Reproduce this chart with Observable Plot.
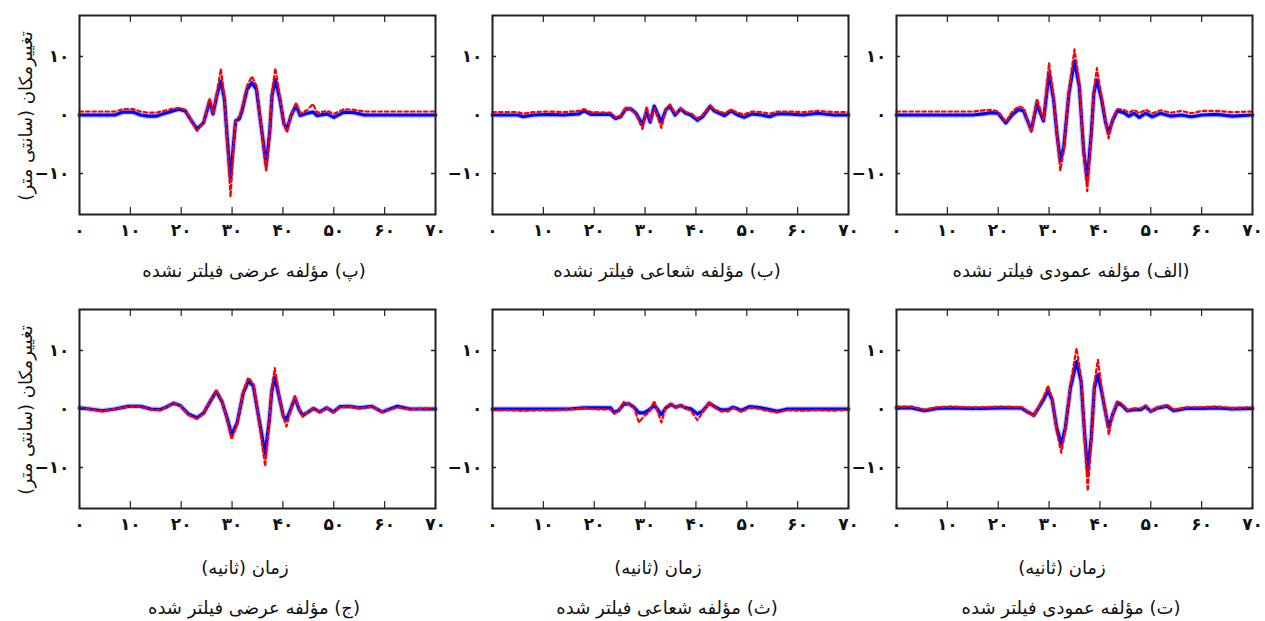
<!DOCTYPE html>
<html><head><meta charset="utf-8">
<script src="https://cdn.jsdelivr.net/npm/d3@7"></script>
<script src="https://cdn.jsdelivr.net/npm/@observablehq/plot@0.6"></script>
<style>
body{margin:0;background:#fff;}
#root{position:relative;width:1265px;height:621px;overflow:hidden;background:#fff;font-family:"DejaVu Sans",sans-serif;color:#111;}
.panel{position:absolute;}
.panel svg{max-width:none;display:block;}
.cap{position:absolute;direction:rtl;text-align:center;white-space:nowrap;font-size:18px;transform:translate(-50%,-50%);}
.ylab{position:absolute;direction:rtl;white-space:nowrap;font-size:18px;transform:translate(-50%,-50%) rotate(-90deg);}
</style></head><body><div id="root"></div>
<script>
// ---------- tick values and labels ----------
const xTicks = [0, 10, 20, 30, 40, 50, 60, 70];
const xTickLabels = ["۰", "۱۰", "۲۰", "۳۰", "۴۰", "۵۰", "۶۰", "۷۰"];
const yTicks = [-10, 0, 10];
const yTickLabels = ["−۱۰", "۰", "۱۰"];
const yTitle = "تغییرمکان (سانتی متر)";
const xTitle = "زمان (ثانیه)";

// ---------- (پ) transverse, unfiltered (top-left) ----------
const timeP = [0,3,5,7,8.5,10.5,12,13.5,15,16.5, 18,19.5,20.8,21.8,23.1,24.4,25.6,26.25,27,27.8, 28.5,29.1,29.7,30.2,30.7,31.4,31.95,32.95,33.9,34.8, 35.7,36.7,37.4,37.85,38.5,39.4,40.2,40.8,41.6,42.6, 43.4,44.75,45.9,46.7,48.7,50,52,54,56,58, 61,64,67,70];
const blueP = [0,0,0,0,0.5,0.5,0,-0.2,-0.2,0.2, 0.6,1.0,0.7,-0.7,-2.4,-1.3,2.4,0.2,3.3,5.8, 2.7,-4.6,-10.8,-5.8,-1.0,-0.7,0.7,4.4,5.5,4.4, -1.8,-8.5,-3.0,3.3,6.0,2.7,-1.5,-2.4,-0.1,1.7, -0.1,0.3,0.5,-0.1,0.2,-0.4,0.5,0.4,0,0, 0,0,0,0];
const redP = [0.6,0.6,0.6,0.6,1.0,1.0,0.6,0.4,0.4,0.7, 1.0,1.2,0.9,-0.7,-2.7,-1.2,2.8,0.3,3.8,7.9, 3.0,-5.5,-14.0,-6.5,-0.8,-0.3,1.2,5.0,6.6,5.0, -1.8,-9.7,-3.2,4.0,8.0,3.2,-1.6,-3.0,0.2,2.0, 0.3,0.8,1.9,0.4,0.7,0.2,1.0,0.9,0.6,0.6, 0.6,0.6,0.6,0.6];

// ---------- (ب) radial, unfiltered (top-middle) ----------
const timeB = [0,3,5,6,8,11,14,17,18,19.3, 23.2,24.2,25.2,26.2,27.2,28.2,29.5,30.3,31,31.8, 32.4,33.2,34.1,34.9,35.9,37,38,39,40.3,41.3, 42.8,43.6,44.6,45.6,46.9,48.2,49.5,51,53,54.5, 56,58,61,64,67,70];
const blueB = [0,0,0,-0.3,0,0.1,0,0.2,0.7,0.1, 0.1,-0.6,-0.3,1.05,1.05,0.3,-1.65,0.6,-1.2,1.5, 0.3,-1.2,0.9,1.5,0,1.05,0.3,0,-0.9,-0.3, 1.5,0.7,0.3,-0.1,0.7,0,-0.4,0.2,0,-0.3, 0.2,0.2,0,0.3,0,0];
const redB = [0.5,0.5,0.5,0.2,0.5,0.6,0.5,0.7,1.0,0.5, 0.4,-0.4,-0.1,1.3,1.0,0.2,-2.4,1.5,-1.0,1.2, -0.2,-2.2,1.0,1.8,0.2,1.1,0.5,0.3,-0.6,0, 1.6,0.9,0.6,0.3,0.9,0.4,0.1,0.6,0.5,0.2, 0.6,0.6,0.5,0.7,0.5,0.5];

// ---------- (الف) vertical, unfiltered (top-right) ----------
const timeA = [0,3,6,9,12,15,17,18.7,20,21.5, 22.7,24,25,26.5,27.6,28.9,30,30.9,31.55,32.2, 32.9,33.9,35,35.95,36.8,37.5,38.3,38.8,39.4,40.3, 41.1,41.7,42.5,43.4,44.7,45.7,46.7,47.7,49,50.3, 51.9,54,56,58,60,63,66,70];
const blueA = [0,0,0,0,0,0,0.2,0.4,0.26,-1.35, 0,0.95,0.7,-2.6,1.9,-1.0,7.2,2.6,-3.2,-7.8, -5.5,3.7,9.2,4.9,-6.1,-11.2,-3.2,3.7,6.0,2.8, -1.2,-3.1,-0.9,0.7,0.4,-0.2,0.3,-0.4,0.3,-0.3, 0.3,-0.2,0,-0.3,0,0.1,-0.2,0];
const redA = [0.6,0.6,0.6,0.6,0.6,0.6,0.8,0.9,0.6,-1.2, 0.5,1.5,1.2,-2.9,2.8,-0.8,8.9,3.0,-3.5,-9.5, -6.0,4.2,11.2,5.5,-6.5,-13.0,-3.5,4.2,8.0,3.2, -1.0,-4.0,-0.6,1.0,0.9,0.4,0.9,0.3,0.9,0.3, 0.8,0.4,0.7,0.3,0.7,0.7,0.5,0.6];

// ---------- (ج) transverse, filtered (bottom-left) ----------
const timeJ = [0,2,4.5,7,9.5,12,14,15.9,17,18.5, 19.8,21.4,23.1,24.4,25.7,26.9,28,29,29.9,31, 32.2,33.2,34.2,35.2,36.5,37.3,37.8,38.4,39.3,40.1, 40.7,41.5,42.35,43.2,43.9,45,46,47.25,48.6,49.9, 51.2,53.1,55,57.5,59.5,62.5,65,67.5,70];
const blueJ = [0.2,0,-0.3,0,0.45,0.45,0,-0.1,0.3,1.0, 0.6,-0.85,-1.5,-0.7,1.3,3.0,1.3,-1.5,-4.4,-2.4, 2.75,4.75,3.9,-1.25,-7.7,-2.1,3.0,5.45,1.9,-1.25, -1.8,-0.1,1.9,-0.1,-1.1,-0.5,0.1,-0.5,0.2,-0.5, 0.4,0.45,0.2,0.45,-0.5,0.45,0,0,0];
const redJ = [0.2,0,-0.4,0,0.4,0.4,-0.1,-0.2,0.3,1.1, 0.5,-1.0,-1.7,-0.8,1.5,3.2,1.4,-1.7,-5.2,-2.6, 3.0,5.4,4.3,-1.5,-9.8,-2.5,3.6,7.0,2.2,-1.5, -3.0,-0.2,2.2,-0.1,-1.3,-0.4,0.2,-0.6,0.2,-0.6, 0.3,0.4,0.1,0.4,-0.5,0.3,-0.1,0.1,0];

// ---------- (ث) radial, filtered (bottom-middle) ----------
const timeS = [0,3,6,9,12,15,18,19.2,23.2,23.9, 24.8,25.8,26.8,27.8,28.8,29.8,30.8,31.8,32.4,33.2, 34.1,35.1,36,37,38,39,40.3,41.3,42.6,43.6, 44.9,46.3,47.3,48.2,48.9,50.5,52,54,56,58, 61,64,67,70];
const blueS = [0,0,0,0,0,0,0.2,0.2,0.2,-0.55, -0.26,0.8,0.9,0.3,-0.66,-0.66,-0.14,0.6,0.03,-0.95, 0.2,0.8,0.3,0.6,0.2,0.03,-0.84,-0.37,1.0,0.44, -0.14,-0.14,0.3,0.03,-0.26,0.4,0.3,0,-0.4,0, 0,0,0,0];
const redS = [-0.2,-0.2,-0.3,-0.2,-0.2,-0.1,0.1,0,-0.1,-0.8, -0.4,1.2,0.8,0.2,-2.3,-1.2,-0.6,1.4,-0.3,-2.3, 0.3,1.0,0.1,0.8,0.1,-0.3,-1.9,-0.6,1.2,0.3, -0.4,-0.4,0.2,-0.2,-0.5,0.2,0.1,-0.3,-0.6,-0.2, -0.3,-0.2,-0.3,-0.1];

// ---------- (ت) vertical, filtered (bottom-right) ----------
const timeT = [0,3,5.5,8,11,14,17,20.4,24.6,25.6, 27,27.9,28.9,29.8,30.6,31.5,32.4,33.2,34.2,35.4, 36.3,37,37.6,38.3,38.9,39.6,40.4,41.3,41.75,42.5, 43.4,44.2,45.4,46.7,48,49,50,51.3,53.2,54.5, 57,60,63,66,70];
const blueT = [0.2,0.2,-0.3,0.1,0.2,0.1,0.1,0.2,0.16,-0.4, -1.1,0.16,1.6,3.1,1.6,-3.25,-6.0,-3.25,3.6,8.1, 4.7,-4.4,-10.6,-4.95,3.6,5.85,2.7,-1.5,-3.1,-0.97, 1.0,0.73,-0.3,-0.1,-0.1,0.45,-0.4,0.16,0.5,-0.3, 0.1,0.1,0.2,0,0.1];
const redT = [0.4,0.4,-0.1,0.3,0.4,0.3,0.3,0.4,0.3,-0.3, -1.2,0.3,2.0,4.0,1.8,-3.8,-7.5,-3.6,4.2,10.4, 5.4,-5.2,-14.0,-5.6,4.4,8.4,3.2,-2.0,-4.4,-0.8, 1.3,1.0,-0.2,0.1,0.1,0.6,-0.3,0.3,0.7,-0.1, 0.3,0.3,0.4,0.2,0.3];

// ---------- captions ----------
const captions = {
  P: "(پ) مؤلفه عرضی فیلتر نشده",
  B: "(ب) مؤلفه شعاعی فیلتر نشده",
  A: "(الف) مؤلفه عمودی فیلتر نشده",
  J: "(ج) مؤلفه عرضی فیلتر شده",
  S: "(ث) مؤلفه شعاعی فیلتر شده",
  T: "(ت) مؤلفه عمودی فیلتر شده"
};

// ---------- layout ----------
const FW = 356, FH = 199;
const ML = 60, MR = 30, MT = 6, MB = 34;
const colLeft = [79, 492, 896];
const rowTop = [15, 309];
const root = document.getElementById("root");

const panels = [
  {key: "P", time: timeP, blue: blueP, red: redP, col: 0, row: 0},
  {key: "B", time: timeB, blue: blueB, red: redB, col: 1, row: 0},
  {key: "A", time: timeA, blue: blueA, red: redA, col: 2, row: 0},
  {key: "J", time: timeJ, blue: blueJ, red: redJ, col: 0, row: 1},
  {key: "S", time: timeS, blue: blueS, red: redS, col: 1, row: 1},
  {key: "T", time: timeT, blue: blueT, red: redT, col: 2, row: 1}
];

function makePanel(p) {
  const data = p.time.map((t, i) => ({t, blue: p.blue[i], red: p.red[i]}));
  const chart = Plot.plot({
    width: FW + ML + MR,
    height: FH + MT + MB,
    marginLeft: ML, marginRight: MR, marginTop: MT, marginBottom: MB,
    x: {domain: [0, 70]},
    y: {domain: [-17, 17]},
    style: {fontFamily: "DejaVu Sans", fontSize: "17px", background: "transparent", color: "#111", overflow: "visible"},
    marks: [
      Plot.line(data, {x: "t", y: "blue", stroke: "#7878ff", strokeWidth: 5.5, strokeOpacity: 0.45}),
      Plot.line(data, {x: "t", y: "blue", stroke: "#0000ff", strokeWidth: 3.2}),
      Plot.line(data, {x: "t", y: "red", stroke: "#ff0000", strokeWidth: 2.2, strokeDasharray: "3.5,3"}),
      Plot.tickX(xTicks, {x: d => d, insetTop: FH - 7, stroke: "#222", strokeWidth: 1.2}),
      Plot.tickX(xTicks, {x: d => d, insetBottom: FH - 7, stroke: "#222", strokeWidth: 1.2}),
      Plot.tickY(yTicks, {y: d => d, insetLeft: FW - 4, stroke: "#222", strokeWidth: 1.5}),
      Plot.tickY(yTicks, {y: d => d, insetRight: FW - 4, stroke: "#222", strokeWidth: 1.5}),
      Plot.frame({stroke: "#222", strokeWidth: 2}),
      Plot.axisX(xTicks, {tickSize: 0, tickPadding: 9, tickFormat: (d) => xTickLabels[xTicks.indexOf(d)], fontSize: 17, fontWeight: "bold", label: null}),
      Plot.axisY(yTicks, {tickSize: 0, tickPadding: 10, tickFormat: (d) => yTickLabels[yTicks.indexOf(d)], fontSize: 17, fontWeight: "bold", label: null})
    ]
  });
  const div = document.createElement("div");
  div.className = "panel";
  div.style.left = (colLeft[p.col] - ML) + "px";
  div.style.top = (rowTop[p.row] - MT) + "px";
  div.appendChild(chart);
  root.appendChild(div);

  const cx = colLeft[p.col] + FW / 2;
  if (p.row === 0) {
    addText("cap", captions[p.key], cx - 3, 270);
  } else {
    addText("cap", xTitle, cx - 12, 567);
    addText("cap", captions[p.key], cx - 3, 607);
  }
  if (p.col === 0) {
    addText("ylab", yTitle, 25, rowTop[p.row] + FH / 2 + 1);
  }
}

function addText(cls, txt, x, y) {
  const d = document.createElement("div");
  d.className = cls;
  d.textContent = txt;
  d.style.left = x + "px";
  d.style.top = y + "px";
  root.appendChild(d);
}

panels.forEach(makePanel);
</script>
</body></html>
